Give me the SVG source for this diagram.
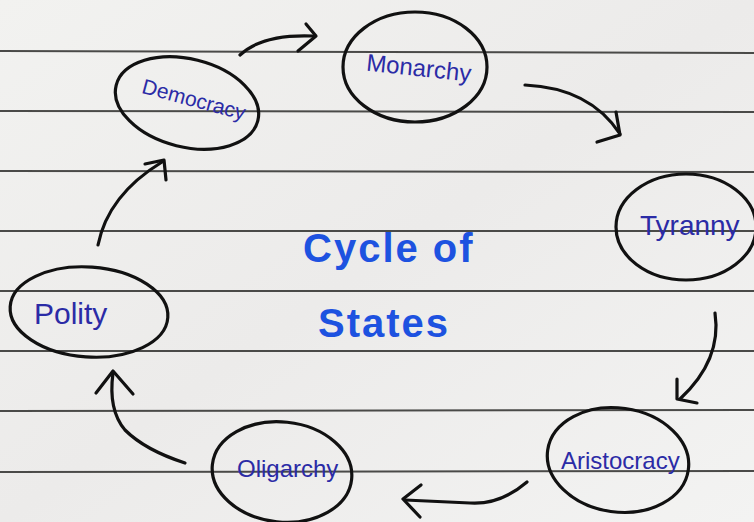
<svg xmlns="http://www.w3.org/2000/svg" width="754" height="522" viewBox="0 0 754 522">
<defs>
<linearGradient id="paper" x1="0" y1="0" x2="1" y2="1">
<stop offset="0" stop-color="#f2f2f0"/>
<stop offset="0.5" stop-color="#ecebea"/>
<stop offset="1" stop-color="#f3f3f2"/>
</linearGradient>
<style>
.rule{stroke:#4a4a48;stroke-width:2;fill:none}
.node{fill:none;stroke:#111;stroke-width:3.2}
.lbl{font-family:"Liberation Sans",Arial,sans-serif;font-size:24px;fill:#2b2ba6}
.title{font-family:"Liberation Sans",Arial,sans-serif;font-size:40px;font-weight:bold;fill:#1d52e0;letter-spacing:2px}
.conn path{fill:none;stroke:#111;stroke-width:3.2;stroke-linecap:round;stroke-linejoin:round}
</style>
</defs>
<rect width="754" height="522" fill="url(#paper)"/>
<g id="rules">
<path class="rule" d="M0 51 L754 53"/>
<path class="rule" d="M0 111 L754 112"/>
<path class="rule" d="M0 171 L754 172"/>
<path class="rule" d="M0 231 L754 231"/>
<path class="rule" d="M0 291 L754 291"/>
<path class="rule" d="M0 351 L754 351"/>
<path class="rule" d="M0 411 L754 410"/>
<path class="rule" d="M0 472 L754 471"/>
</g>
<g id="democracy">
<ellipse class="node" cx="187" cy="103" rx="73" ry="44" transform="rotate(14 187 103)"/>
<text class="lbl" x="138" y="106" style="font-size:21px" transform="rotate(15 190 110)">Democracy</text>
</g>
<g id="monarchy">
<ellipse class="node" cx="415" cy="67" rx="72" ry="55"/>
<text class="lbl" x="366" y="76" transform="rotate(6 418 70)">Monarchy</text>
</g>
<g id="tyranny">
<ellipse class="node" cx="686" cy="227" rx="70" ry="53"/>
<text class="lbl" x="640" y="235" style="font-size:28px">Tyranny</text>
</g>
<g id="aristocracy">
<ellipse class="node" cx="618" cy="460" rx="71" ry="52" transform="rotate(8 618 460)"/>
<text class="lbl" x="561" y="469">Aristocracy</text>
</g>
<g id="oligarchy">
<ellipse class="node" cx="282" cy="472" rx="70" ry="50" transform="rotate(6 282 472)"/>
<text class="lbl" x="237" y="477">Oligarchy</text>
</g>
<g id="polity">
<ellipse class="node" cx="89" cy="312" rx="79" ry="45" transform="rotate(4 89 312)"/>
<text class="lbl" x="34" y="324" style="font-size:30px">Polity</text>
</g>
<g id="title">
<text class="title" x="303" y="262">Cycle of</text>
<text class="title" x="318" y="337">States</text>
</g>
<g class="conn" id="connectors">
<path d="M240 55 Q262 34 313 36"/>
<path d="M306 24 L316 36 L298 51"/>
<path d="M525 85 Q590 88 620 134"/>
<path d="M616 112 L620 135 L597 142"/>
<path d="M715 313 Q722 360 680 399"/>
<path d="M677 379 L677 399 L697 403"/>
<path d="M527 482 Q500 505 470 503 L405 500"/>
<path d="M421 485 L403 499 L420 517"/>
<path d="M185 463 Q145 450 125 430 Q108 410 113 373"/>
<path d="M96 393 L113 371 L133 394"/>
<path d="M98 245 Q108 195 162 162"/>
<path d="M145 164 L164 160 L166 180"/>
</g>
</svg>
